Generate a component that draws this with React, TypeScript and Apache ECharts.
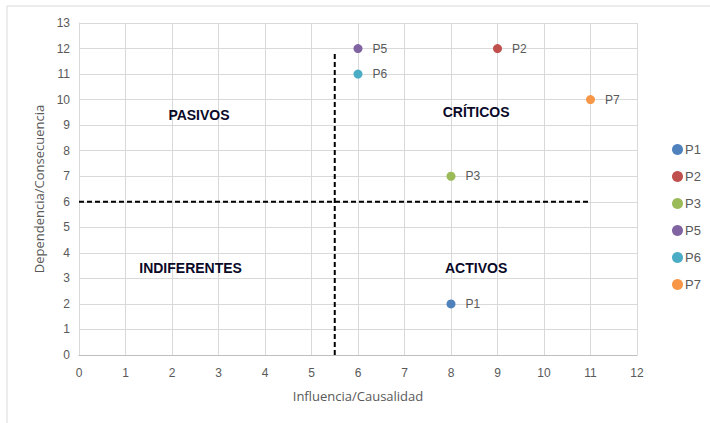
import React, { useEffect, useRef } from "react";
import * as echarts from "echarts";

const pointNames = ["P1", "P2", "P3", "P5", "P6", "P7"];
const pointX = [8, 9, 8, 6, 6, 11];
const pointY = [2, 12, 7, 12, 11, 10];
const pointColors = ["#4F81BD", "#C0504D", "#9BBB59", "#8064A2", "#4BACC6", "#F79646"];

const quadrantNames = ["PASIVOS", "CRÍTICOS", "INDIFERENTES", "ACTIVOS"];
const quadrantX = [2.58, 8.54, 2.4, 8.54];
const quadrantY = [9.4, 9.5, 3.4, 3.4];

const vLine = [[5.5, 0], [5.5, 11.9]];
const hLine = [[0, 6], [11, 6]];

const FONT = "Liberation Sans";
const TITLE_FONT = "Open Sans";

export default function App() {
  const ref = useRef<HTMLDivElement>(null);
  useEffect(() => {
    const chart = echarts.init(ref.current!, undefined, { renderer: "svg" });
    const pointSeries = pointNames.map((n, i) => ({
      name: n,
      type: "scatter",
      symbol: "circle",
      symbolSize: 9,
      itemStyle: { color: pointColors[i], opacity: 1 },
      label: {
        show: true,
        position: "right",
        distance: 10,
        formatter: n,
        color: "#595959",
        fontSize: 12,
        fontFamily: FONT,
      },
      data: [[pointX[i], pointY[i]]],
      z: 5,
    }));
    chart.setOption({
      animation: false,
      backgroundColor: "#ffffff",
      textStyle: { fontFamily: FONT },
      graphic: [
        {
          type: "rect",
          shape: { x: 7, y: 6, width: 720, height: 430 },
          style: { fill: "none", stroke: "#d9d9d9", lineWidth: 1 },
          silent: true,
        },
      ],
      grid: { left: 79, right: 73, top: 23, bottom: 68 },
      legend: {
        orient: "vertical",
        left: 667,
        top: 137,
        itemGap: 12,
        itemWidth: 11,
        itemHeight: 11,
        icon: "circle",
        data: pointNames,
        textStyle: { color: "#595959", fontSize: 13, lineHeight: 15, fontFamily: FONT, padding: [0, 0, 0, -3] },
      },
      xAxis: {
        type: "value",
        min: 0,
        max: 12,
        interval: 1,
        name: "Influencia/Causalidad",
        nameLocation: "middle",
        nameGap: 34,
        nameTextStyle: { color: "#595959", fontSize: 13, fontFamily: TITLE_FONT },
        axisLine: { show: true, lineStyle: { color: "#bfbfbf" } },
        axisTick: { show: false },
        axisLabel: { color: "#595959", fontSize: 12, margin: 12, fontFamily: FONT },
        splitLine: { show: true, lineStyle: { color: "#d9d9d9" } },
      },
      yAxis: {
        type: "value",
        min: 0,
        max: 13,
        interval: 1,
        name: "Dependencia/Consecuencia",
        nameLocation: "middle",
        nameGap: 30,
        nameTextStyle: { color: "#595959", fontSize: 13, fontFamily: TITLE_FONT },
        axisLine: { show: true, lineStyle: { color: "#d9d9d9" } },
        axisTick: { show: false },
        axisLabel: { color: "#595959", fontSize: 12, margin: 9, fontFamily: FONT },
        splitLine: { show: true, lineStyle: { color: "#d9d9d9" } },
      },
      series: [
        {
          name: "vline",
          type: "line",
          data: vLine,
          symbol: "none",
          lineStyle: { color: "#000000", width: 2, type: [5, 3] },
          silent: true,
          z: 3,
        },
        {
          name: "hline",
          type: "line",
          data: hLine,
          symbol: "none",
          lineStyle: { color: "#000000", width: 2, type: [5, 3] },
          silent: true,
          z: 3,
        },
        {
          name: "quadrants",
          type: "scatter",
          symbolSize: 0,
          silent: true,
          itemStyle: { opacity: 1 },
          data: quadrantNames.map((n, i) => ({ name: n, value: [quadrantX[i], quadrantY[i]] })),
          label: {
            show: true,
            position: "inside",
            formatter: (p: any) => p.name,
            color: "#0a0a28",
            opacity: 1,
            textBorderWidth: 0,
            fontSize: 14,
            fontWeight: "bold",
            fontFamily: FONT,
          },
          z: 4,
        },
        ...pointSeries,
      ],
    });
    return () => chart.dispose();
  }, []);
  return (
    <div
      ref={ref}
      style={{ position: "fixed", left: 0, top: 0, width: 710, height: 423 }}
    />
  );
}
